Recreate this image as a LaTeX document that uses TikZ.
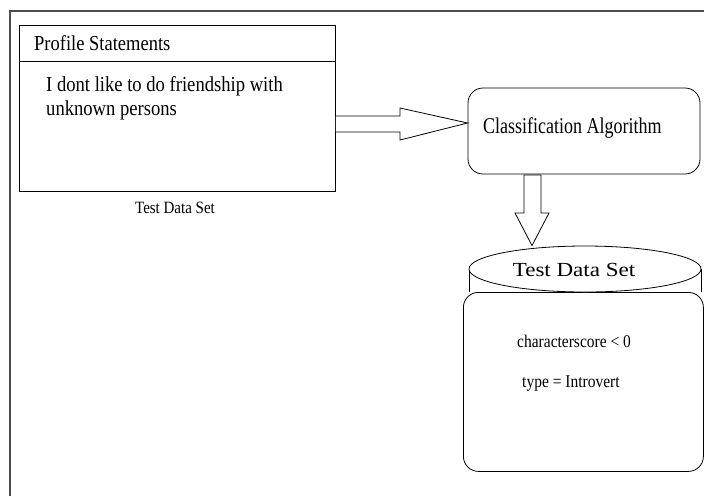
\documentclass[tikz,border=0pt]{standalone}
\usepackage{fontspec}
\setmainfont{Liberation Serif}
\usetikzlibrary{calc,shapes.geometric}
\newcommand{\vs}[1]{\scalebox{1}[1.15]{#1}}
\tikzset{
  line/.style={draw=black, line width=0.8pt},
  txt/.style={inner sep=0pt, anchor=base west},
  blockarrow/.style={draw=black, line width=0.8pt, fill=white, line join=miter},
}
\begin{document}
\begin{tikzpicture}[x=1pt,y=-1pt]
\useasboundingbox (0,0) rectangle (704,496);
% outer frame
\coordinate (fl) at (10,496);
\coordinate (ftl) at (10,11);
\coordinate (ftr) at (704,11);
\draw[draw=black!70, line width=1.5pt] (fl) -- (ftl) -- (ftr);

% profile box
\node[line, minimum width=316pt, minimum height=166pt, anchor=north west, inner sep=0pt] (prof) at (19,25) {};
\coordinate (hl) at (19,61);
\coordinate (hr) at (335,61);
\draw[line] (hl) -- (hr);
\node[txt] (ptitle) at (34,50) {\fontsize{18.5}{20}\selectfont\vs{Profile Statements}};
\node[txt] (pl1) at (46,91) {\fontsize{18.6}{20}\selectfont\vs{I dont like to do friendship with}};
\node[txt] (pl2) at (46,115.5) {\fontsize{18.6}{20}\selectfont\vs{unknown persons}};
\node[inner sep=0pt, anchor=base] (plab) at (175,213) {\fontsize{15}{16}\selectfont\vs{Test Data Set}};

% classification box
\node[line, rounded corners=15pt, minimum width=232pt, minimum height=86pt, inner sep=0pt] (cls) at (584,131) {};
\node[txt] (clstxt) at (483,133) {\fontsize{18}{20}\selectfont\scalebox{1}[1.25]{Classification Algorithm}};

% right block arrow
\draw[blockarrow] (prof.east |- 0,116) -- (400,116) -- (400,108) -- ($(cls.west)+(0,-8)$) -- (400,140) -- (400,132) -- (prof.east |- 0,132);

% cylinder
\node[line, rounded corners=15pt, minimum width=240pt, minimum height=179pt, inner sep=0pt, anchor=north west] (body) at (463,292) {};
\coordinate (cl1) at (469,269);
\coordinate (cl2) at (469,292);
\coordinate (cr1) at (701,269);
\coordinate (cr2) at (701,292);
\draw[line] (cl1) -- (cl2);
\draw[line] (cr1) -- (cr2);
\node[line, ellipse, minimum width=232pt, minimum height=46pt, inner sep=0pt, fill=white] (top) at (585,269) {};
\node[inner sep=0pt, anchor=base] (ttl) at (574,276) {\fontsize{20}{22}\selectfont\scalebox{1.15}[1]{Test Data Set}};
\node[txt] (c1) at (517,347) {\fontsize{15.5}{17}\selectfont\vs{characterscore < 0}};
\node[txt] (c2) at (522,387) {\fontsize{15.5}{17}\selectfont\vs{type = Introvert}};

% down block arrow
\draw[blockarrow] (524,175) -- (524,213) -- (515,213) -- (top.north -| 532,0) -- (549,213) -- (541,213) -- (541,175) -- cycle;
\end{tikzpicture}
\end{document}
